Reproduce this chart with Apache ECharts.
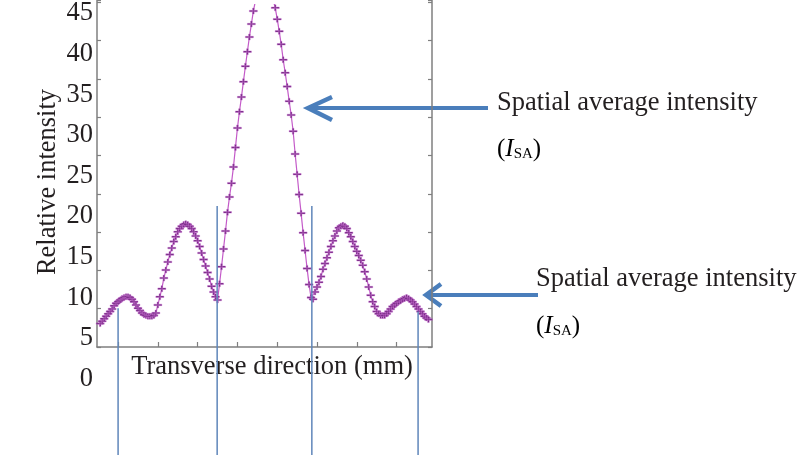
<!DOCTYPE html>
<html>
<head>
<meta charset="utf-8">
<script src="https://cdn.jsdelivr.net/npm/echarts@6/dist/echarts.min.js"></script>
<style>
html,body{margin:0;padding:0;background:#fff;}
#chart{width:808px;height:455px;}
</style>
</head>
<body>
<div id="chart"></div>
<script>
// Transverse position (mm, arbitrary origin at first bottom tick)
const xs = [
 -0.45,-0.40,-0.35,-0.30,-0.25,-0.20,-0.15,-0.10,-0.05,0.00,
 0.05,0.10,0.15,0.20,0.25,0.30,0.35,0.40,0.45,0.50,
 0.55,0.60,0.65,0.70,0.75,0.80,0.85,0.90,0.95,1.00,
 1.05,1.10,1.15,1.20,1.25,1.30,1.35,1.40,1.45,1.50,
 1.55,1.60,1.65,1.70,1.75,1.80,1.85,1.90,1.95,2.00,
 2.05,2.10,2.15,2.20,2.25,2.30,2.35,2.40,2.45,2.50,
 2.55,2.60,2.65,2.70,2.75,2.80,2.85,2.90,2.95,3.00,
 3.05,3.10,3.15,3.20,3.25,3.30,3.35,3.40,3.45,3.50,
 3.55,3.60,3.65,3.70,3.75,3.80,3.85,3.90,3.95,4.00,
 4.05,4.10,4.15,4.20,4.25,4.30,4.35,4.40,4.45,4.50,
 4.55,4.60,4.65,4.70,4.75,4.80,4.85,4.90,4.95,5.00,
 5.05,5.10,5.15,5.20,5.25,5.30,5.35,5.40,5.45,5.50,
 5.55,5.60,5.65,5.70,5.75,5.80,5.85,5.90,5.95,6.00,
 6.05,6.10,6.15,6.20,6.25,6.30,6.35,6.40,6.45,6.50,
 6.55,6.60,6.65,6.70,6.75,6.80,6.85,6.90,6.95,7.00,
 7.05,7.10,7.15,7.20,7.25,7.30,7.35,7.40,7.45,7.50,
 7.55,7.60,7.65,7.70,7.75,7.80
];
// Relative intensity
const ys = [
 6.8,7.1,7.4,7.7,8.0,8.3,8.6,9.0,9.3,9.5,
 9.7,9.9,10.0,10.1,10.1,10.0,9.8,9.5,9.1,8.7,
 8.4,8.1,7.9,7.8,7.7,7.7,7.7,7.8,8.1,9.1,
 10.1,11.1,12.4,13.4,14.4,15.3,16.1,16.9,17.5,18.1,
 18.5,18.8,19.0,19.1,19.0,18.8,18.5,18.1,17.6,17.0,
 16.3,15.5,14.7,13.9,13.1,12.3,11.4,10.7,10.1,9.7,
 11.7,13.8,16.0,18.2,20.5,22.4,24.1,26.1,28.5,30.9,
 32.9,34.7,36.6,38.5,40.3,42.1,43.7,45.3,46.5,47.5,
 48.2,48.7,48.9,48.9,48.6,48.1,47.4,46.6,45.7,44.3,
 42.8,41.2,39.3,37.7,36.0,34.2,32.5,30.5,27.7,25.2,
 22.7,20.4,18.0,15.8,13.6,11.6,10.0,9.8,10.7,11.3,
 11.9,12.6,13.5,14.2,14.9,15.6,16.3,17.0,17.6,18.2,
 18.6,18.8,18.9,18.8,18.5,18.0,17.5,16.9,16.3,15.7,
 15.2,14.6,14.0,13.2,12.3,11.3,10.3,9.5,8.9,8.3,
 8.0,7.8,7.8,7.8,8.0,8.3,8.6,8.9,9.1,9.3,
 9.5,9.6,9.8,9.9,10.0,9.9,9.7,9.5,9.2,8.9,
 8.6,8.3,8.0,7.7,7.5,7.3
];
// y tick labels shown
const yTickLabels = [0,5,10,15,20,25,30,35,40,45];
// bottom-axis tick positions (mm)
const xTicks = [0,1,2,3,4,5,6,7];
// vertical guide lines: x position, top value
const guideX = [0.00, 2.49, 4.87, 7.54];
const guideTop = [8.7, 21.3, 21.3, 8.3];
const guideBottom = -9.4;
const annotationText = 'Spatial average intensity';

const SERIF = '"Liberation Serif", "DejaVu Serif", serif';
const FS = 26.5;
const chart = echarts.init(document.getElementById('chart'), null, {renderer:'canvas'});

const curve = xs.map((x, i) => [x, ys[i]]);
const guideSeries = guideX.map((x, i) => ({
  type: 'line', xAxisIndex: 0, yAxisIndex: 0, z: 5,
  data: [[x, guideTop[i]], [x, guideBottom]],
  symbol: 'none', silent: true, clip: false,
  lineStyle: {color: '#5f86ba', width: 1.5}
}));

const blue = '#4a7ebb';
const subRich = {
  p: {fontFamily: SERIF, fontSize: 25, color: '#231f20', lineHeight: 30, verticalAlign: 'bottom'},
  i: {fontFamily: SERIF, fontSize: 25, fontStyle: 'italic', color: '#231f20', lineHeight: 30, verticalAlign: 'bottom'},
  s: {fontFamily: SERIF, fontSize: 15, color: '#231f20', lineHeight: 30, verticalAlign: 'bottom'}
};

const option = {
  backgroundColor: '#ffffff',
  animation: false,
  grid: [
    {left: 97, right: 376, top: 0, bottom: 0},
    {left: 97, right: 376, top: 0, bottom: 108}
  ],
  xAxis: [
    {gridIndex: 0, type: 'value', min: -0.53, max: 7.89, show: false},
    {gridIndex: 1, type: 'value', min: -0.53, max: 7.89,
     axisLine: {show: true, lineStyle: {color: '#7f7f7f', width: 1.5}},
     axisTick: {show: true, inside: true, length: 5, customValues: xTicks, lineStyle: {color: '#7f7f7f', width: 1.2}},
     axisLabel: {show: false}, splitLine: {show: false}}
  ],
  yAxis: [
    {gridIndex: 0, type: 'value', min: -9.39, max: 46.1,
     axisLine: {show: false}, axisTick: {show: false}, splitLine: {show: false},
     axisLabel: {show: true, margin: 4, fontFamily: SERIF, fontSize: FS, color: '#231f20',
       customValues: yTickLabels, formatter: v => String(v)}},
    {gridIndex: 1, type: 'value', min: 0, max: 9.06, interval: 1, position: 'left',
     axisLine: {show: true, onZero: false, lineStyle: {color: '#7f7f7f', width: 1.5}},
     axisTick: {show: true, inside: true, length: 4, lineStyle: {color: '#7f7f7f', width: 1.2}},
     axisLabel: {show: false}, splitLine: {show: false}},
    {gridIndex: 1, type: 'value', min: 0, max: 9.06, interval: 1, position: 'right',
     axisLine: {show: true, onZero: false, lineStyle: {color: '#7f7f7f', width: 1.5}},
     axisTick: {show: true, inside: true, length: 4, lineStyle: {color: '#7f7f7f', width: 1.2}},
     axisLabel: {show: false}, splitLine: {show: false}}
  ],
  series: [
    {
      type: 'line', xAxisIndex: 0, yAxisIndex: 0, z: 3,
      data: curve,
      showSymbol: true,
      symbol: 'path://M0,3H10V5H0Z M4,0H6V8H4Z',
      symbolSize: [8, 6],
      itemStyle: {color: '#6a2378', borderColor: 'rgba(205,110,215,0.7)', borderWidth: 0.6},
      lineStyle: {color: '#c45bc9', width: 1.2},
      silent: true
    }
  ].concat(guideSeries),
  graphic: [
    {type: 'text', x: 48, y: 182, rotation: Math.PI/2,
     style: {text: 'Relative intensity', fontFamily: SERIF, fontSize: FS, fill: '#231f20', align: 'center', verticalAlign: 'middle'}},
    {type: 'text', x: 272, y: 367,
     style: {text: 'Transverse direction (mm)', fontFamily: SERIF, fontSize: FS, fill: '#231f20', align: 'center', verticalAlign: 'middle'}},
    // upper arrow
    {type: 'line', shape: {x1: 311, y1: 108, x2: 488, y2: 108}, style: {stroke: blue, lineWidth: 4}},
    {type: 'polyline', shape: {points: [[332, 97], [308, 108], [332, 120]]}, style: {stroke: blue, lineWidth: 4.5, fill: null, lineJoin: 'miter'}},
    {type: 'text', x: 497, y: 103,
     style: {text: annotationText, fontFamily: SERIF, fontSize: FS, fill: '#231f20', align: 'left', verticalAlign: 'middle'}},
    {type: 'text', x: 497, y: 147,
     style: {text: '{p|(}{i|I}{s|SA}{p|)}', rich: subRich, align: 'left', verticalAlign: 'middle'}},
    // lower arrow
    {type: 'line', shape: {x1: 428, y1: 295, x2: 538, y2: 295}, style: {stroke: blue, lineWidth: 4}},
    {type: 'polyline', shape: {points: [[441, 284], [426, 295], [441, 306]]}, style: {stroke: blue, lineWidth: 4.5, fill: null, lineJoin: 'miter'}},
    {type: 'text', x: 536, y: 279,
     style: {text: annotationText, fontFamily: SERIF, fontSize: FS, fill: '#231f20', align: 'left', verticalAlign: 'middle'}},
    {type: 'text', x: 536, y: 324,
     style: {text: '{p|(}{i|I}{s|SA}{p|)}', rich: subRich, align: 'left', verticalAlign: 'middle'}}
  ]
};
chart.setOption(option);
</script>
</body>
</html>
